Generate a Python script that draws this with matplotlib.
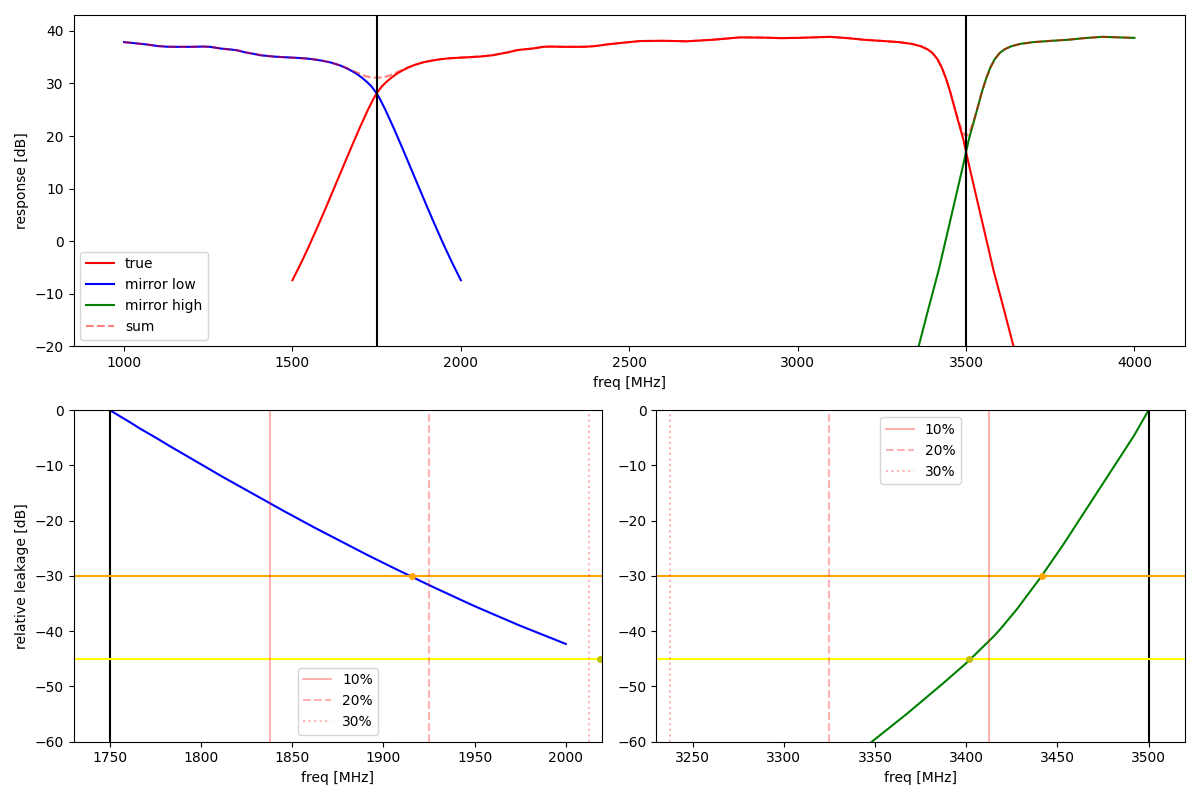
import numpy as np
import matplotlib.pyplot as plt

freq = np.array([1500, 1525, 1550, 1575, 1600, 1625, 1650, 1675, 1700, 1725,
                 1740, 1750, 1765, 1780, 1795, 1810, 1825, 1840, 1860, 1888,
                 1915, 1940, 1967, 2000, 2016, 2056, 2095, 2106, 2140, 2165,
                 2184, 2210, 2245, 2263, 2300, 2354, 2372, 2400, 2433, 2470,
                 2500, 2532, 2600, 2670, 2750, 2829, 2900, 2948, 3000, 3096,
                 3150, 3195, 3244, 3300, 3340, 3366, 3385, 3400, 3415, 3428,
                 3440, 3452, 3472, 3492, 3500, 3510, 3542, 3581, 3615, 3634,
                 3652, 3670])
resp = np.array([-7.4, -4.2, -0.8, 2.8, 6.5, 10.3, 14.1, 17.9, 21.6, 25.1,
                 27.0, 28.1, 29.4, 30.35, 31.15, 31.85, 32.4, 32.9, 33.45, 34.0,
                 34.35, 34.6, 34.78, 34.9, 34.95, 35.1, 35.35, 35.5, 35.9, 36.3,
                 36.45, 36.6, 36.95, 37.0, 36.95, 36.95, 36.97, 37.1, 37.4, 37.65,
                 37.85, 38.05, 38.1, 38.0, 38.3, 38.75, 38.7, 38.6, 38.65, 38.85,
                 38.6, 38.3, 38.1, 37.85, 37.5, 37.05, 36.5, 35.8, 34.6, 33.0,
                 31.0, 28.6, 23.9, 19.3, 17.0, 14.1, 5.3, -5.4, -13.6, -18.3,
                 -22.7, -27.5])

f_low = 1750    # lower band edge, mirror axis
f_high = 3500   # upper band edge, mirror axis

pct_labels = ['10%', '20%', '30%']
pct_styles = ['-', '--', ':']
low_marks = [1837.5, 1925, 2012.5]
high_marks = [3412.5, 3325, 3237.5]

levels = [-30, -45]
level_colors = ['orange', 'yellow']
dot_colors = ['orange', 'y']
low_cross = [1915.7, 2018.6]
high_cross = [3441.4, 3401.6]


def lookup(x, xs, ys):
    out = np.full(x.shape, -np.inf)
    inside = (x >= xs.min()) & (x <= xs.max())
    out[inside] = np.interp(x[inside], xs, ys)
    return out


# mirrored images
sel = freq <= 2 * f_low - 1000
ml_f = (2 * f_low - freq[sel])[::-1]
ml_r = resp[sel][::-1]
sel = freq >= 2 * f_high - 4000
mh_f = (2 * f_high - freq[sel])[::-1]
mh_r = resp[sel][::-1]

grid = np.arange(1000, 4001, 1.0)
parts = [lookup(grid, freq, resp), lookup(grid, ml_f, ml_r), lookup(grid, mh_f, mh_r)]
total = 10 * np.log10(sum(np.power(10.0, p / 10) for p in parts))

fig = plt.figure(figsize=(12, 8), dpi=100)
gs = fig.add_gridspec(2, 2)
ax = fig.add_subplot(gs[0, :])
ax1 = fig.add_subplot(gs[1, 0])
ax2 = fig.add_subplot(gs[1, 1])

ax.plot(freq, resp, color='red', label='true')
ax.plot(ml_f, ml_r, color='blue', label='mirror low')
ax.plot(mh_f, mh_r, color='green', label='mirror high')
ax.plot(grid, total, '--', color='red', alpha=0.5, label='sum')
ax.axvline(f_low, color='black')
ax.axvline(f_high, color='black')
ax.set_ylim(-20, 43)
ax.set_xlabel('freq [MHz]')
ax.set_ylabel('response [dB]')
ax.legend(loc='lower left')

# leakage of the mirror relative to the true response
lf = np.arange(f_low, 2000.5, 1.0)
leak_low = lookup(2 * f_low - lf, freq, resp) - lookup(lf, freq, resp)
ax1.plot(lf, leak_low, color='blue')
ax1.axvline(f_low, color='black')

hf = np.arange(3330, f_high + 0.5, 1.0)
leak_high = lookup(2 * f_high - hf, freq, resp) - lookup(hf, freq, resp)
ax2.plot(hf, leak_high, color='green')
ax2.axvline(f_high, color='black')

for a, marks, cross in [(ax1, low_marks, low_cross), (ax2, high_marks, high_cross)]:
    for lvl, c in zip(levels, level_colors):
        a.axhline(lvl, color=c)
    for m, ls, lab in zip(marks, pct_styles, pct_labels):
        a.axvline(m, color='red', alpha=0.3, linestyle=ls, label=lab)
    for x, lvl, c in zip(cross, levels, dot_colors):
        a.plot(x, lvl, 'o', color=c, markersize=4)
    a.set_ylim(-60, 0)
    a.set_xlabel('freq [MHz]')

ax1.set_xlim(1730, 2020)
ax2.set_xlim(3230, 3520)
ax1.set_ylabel('relative leakage [dB]')
ax1.legend(loc='lower center')
ax2.legend(loc='upper center')

fig.tight_layout()
fig.savefig('out.png')
